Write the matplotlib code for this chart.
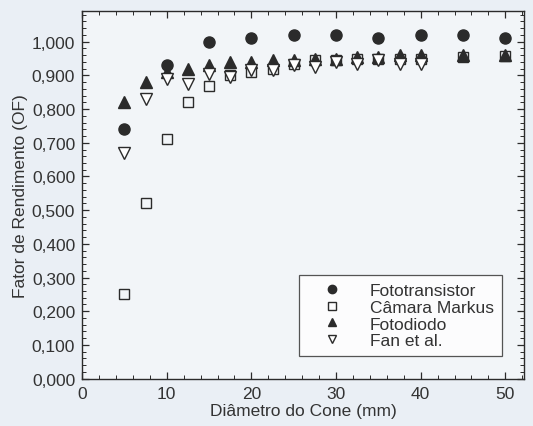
import matplotlib
matplotlib.use("Agg")
import matplotlib.pyplot as plt
from matplotlib.ticker import MultipleLocator, FuncFormatter

plt.rcParams["font.family"] = ["Liberation Sans", "DejaVu Sans"]

# ── Dados ──
x_foto = [5, 10, 15, 20, 25, 30, 35, 40, 45, 50]
y_fototransistor = [0.74, 0.93, 1.00, 1.01, 1.02, 1.02, 1.01, 1.02, 1.02, 1.01]

x_full = [5, 7.5, 10, 12.5, 15, 17.5, 20, 22.5, 25, 27.5, 30, 32.5, 35, 37.5, 40, 45, 50]
y_markus = [0.25, 0.52, 0.71, 0.82, 0.87, 0.90, 0.91, 0.92, 0.935, 0.945,
            0.945, 0.948, 0.95, 0.95, 0.95, 0.955, 0.958]
y_fotodiodo = [0.82, 0.88, 0.91, 0.92, 0.93, 0.94, 0.94, 0.945, 0.945, 0.95,
               0.95, 0.955, 0.955, 0.96, 0.96, 0.96, 0.96]

x_fan = [5, 7.5, 10, 12.5, 15, 17.5, 20, 22.5, 25, 27.5, 30, 32.5, 35, 37.5, 40]
y_fan = [0.67, 0.83, 0.89, 0.875, 0.905, 0.895, 0.915, 0.915, 0.93, 0.925,
         0.94, 0.935, 0.945, 0.935, 0.935]

BG = "#eaeff5"
INK = "#2b2b2b"
FS = 12.5

fig = plt.figure(figsize=(5.33, 4.27), dpi=100)
fig.patch.set_facecolor(BG)
ax = fig.add_axes([0.154, 0.111, 0.829, 0.860])
ax.set_facecolor("#f2f5f8")

ms = 8
ax.plot(x_foto, y_fototransistor, "o", ms=ms, color=INK, mec=INK,
        ls="none", label="Fototransistor", zorder=4)
ax.plot(x_full, y_markus, "s", ms=ms - 1, mfc="none", mec=INK, mew=1.0,
        ls="none", label="Câmara Markus", zorder=3)
ax.plot(x_full, y_fotodiodo, "^", ms=ms + 0.5, color=INK, mec=INK,
        ls="none", label="Fotodiodo", zorder=4)
ax.plot(x_fan, y_fan, "v", ms=ms + 0.5, mfc="white", mec=INK, mew=1.0,
        ls="none", label="Fan et al.", zorder=5)

ax.set_xlim(0, 52.2)
ax.set_ylim(0, 1.09)

ax.xaxis.set_major_locator(MultipleLocator(10))
ax.xaxis.set_minor_locator(MultipleLocator(2))
ax.yaxis.set_major_locator(MultipleLocator(0.1))
ax.yaxis.set_minor_locator(MultipleLocator(0.02))
ax.yaxis.set_major_formatter(FuncFormatter(lambda v, p: f"{v:.3f}".replace(".", ",")))

ax.tick_params(which="both", direction="in", top=True, right=True,
               colors=INK, labelsize=FS, labelcolor="#333333")
ax.tick_params(which="major", length=5, width=0.9, pad=5)
ax.tick_params(which="minor", length=3, width=0.7)
for s in ax.spines.values():
    s.set_edgecolor(INK)
    s.set_linewidth(1.0)

ax.set_xlabel("Diâmetro do Cone (mm)", fontsize=FS, color="#333333", labelpad=2)
ax.set_ylabel("Fator de Rendimento (OF)", fontsize=FS, color="#333333", labelpad=3)

leg = ax.legend(loc="lower right", bbox_to_anchor=(0.95, 0.061),
                fontsize=FS, frameon=True, fancybox=False, markerscale=0.75,
                handlelength=2.9, handletextpad=0.75, borderpad=0.45,
                labelspacing=0.1, borderaxespad=0.0)
leg.get_frame().set_edgecolor(INK)
leg.get_frame().set_linewidth(0.9)
leg.get_frame().set_facecolor("white")
for t in leg.get_texts():
    t.set_color("#333333")

fig.savefig("out.png", dpi=100, facecolor=fig.get_facecolor())
